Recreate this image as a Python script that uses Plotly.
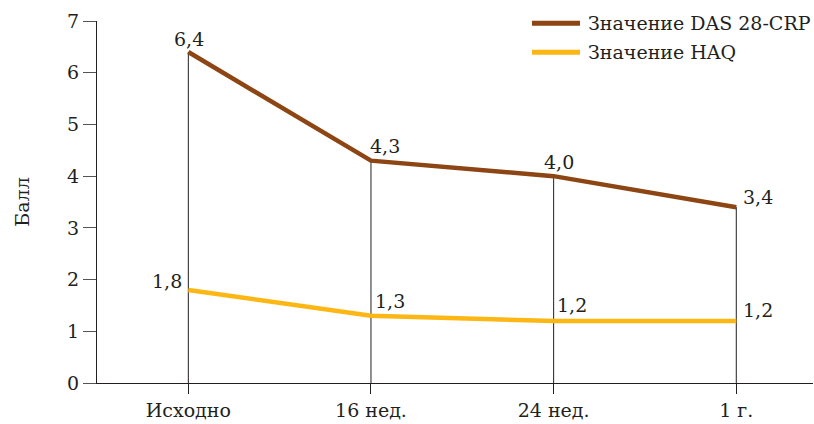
import plotly.graph_objects as go

# Time points and scores
categories = ["Исходно", "16 нед.", "24 нед.", "1 г."]
das28_crp = [6.4, 4.3, 4.0, 3.4]
haq = [1.8, 1.3, 1.2, 1.2]
y_ticks = [0, 1, 2, 3, 4, 5, 6, 7]

series_names = ["Значение DAS 28-CRP", "Значение HAQ"]
BROWN = "#8C4513"
YELLOW = "#FDB714"
INK = "#231F20"
FONT = "DejaVu Serif"

xs = list(range(len(categories)))

fig = go.Figure()
fig.add_trace(go.Scatter(x=xs, y=das28_crp, mode="lines", name=series_names[0],
                         line=dict(color=BROWN, width=4.5), showlegend=False))
fig.add_trace(go.Scatter(x=xs, y=haq, mode="lines", name=series_names[1],
                         line=dict(color=YELLOW, width=4.5), showlegend=False))

# Vertical guide lines from the axis up to the DAS 28-CRP value
for x, v in zip(xs, das28_crp):
    fig.add_shape(type="line", xref="x", yref="y", x0=x, x1=x, y0=0, y1=v,
                  line=dict(color=INK, width=1), layer="below")

def fmt(v):
    return f"{v:.1f}".replace(".", ",")

# Value labels: (x shift, y shift, anchor) per point
das_offsets = [(1, 0, "center"), (14, 2, "center"), (5, 1, "center"), (5, -3, "left")]
haq_offsets = [(-4, -4, "right"), (19, 2, "center"), (18, 3, "center"), (5, -2, "left")]

for values, offsets in ((das28_crp, das_offsets), (haq, haq_offsets)):
    for x, v, (dx, dy, anchor) in zip(xs, values, offsets):
        fig.add_annotation(x=x, y=v, text=fmt(v), showarrow=False, xanchor=anchor,
                           yanchor="bottom", xshift=dx, yshift=dy,
                           font=dict(family=FONT, size=19, color=INK))

# Legend drawn as line samples with labels
legend_y = [0.994, 0.914]
for name, color, ly in zip(series_names, [BROWN, YELLOW], legend_y):
    fig.add_shape(type="line", xref="paper", yref="paper", x0=0.6075, x1=0.6746,
                  y0=ly, y1=ly, line=dict(color=color, width=5))
    fig.add_annotation(xref="paper", yref="paper", x=0.6835, y=ly, text=name,
                       showarrow=False, xanchor="left", yanchor="middle",
                       font=dict(family=FONT, size=19, color=INK))

fig.update_layout(
    width=814, height=424,
    margin=dict(l=97, r=1, t=21, b=41),
    paper_bgcolor="white", plot_bgcolor="white",
    font=dict(family=FONT, size=19, color=INK),
    xaxis=dict(
        tickmode="array", tickvals=xs, ticktext=categories,
        range=[-0.5, 3.42], showgrid=False, zeroline=False,
        showline=True, linecolor=INK, linewidth=1,
        ticks="outside", ticklen=10, tickcolor=INK, tickwidth=1,
        tickfont=dict(family=FONT, size=19, color=INK),
    ),
    yaxis=dict(
        range=[0, 7], tickvals=y_ticks, showgrid=False, zeroline=False,
        showline=True, linecolor=INK, linewidth=1,
        ticks="outside", ticklen=13, tickcolor="#555555", tickwidth=1,
        tickfont=dict(family=FONT, size=19, color=INK),
        title=dict(text="Балл", font=dict(family=FONT, size=19, color=INK), standoff=32),
    ),
)

fig.write_html("out.html")
